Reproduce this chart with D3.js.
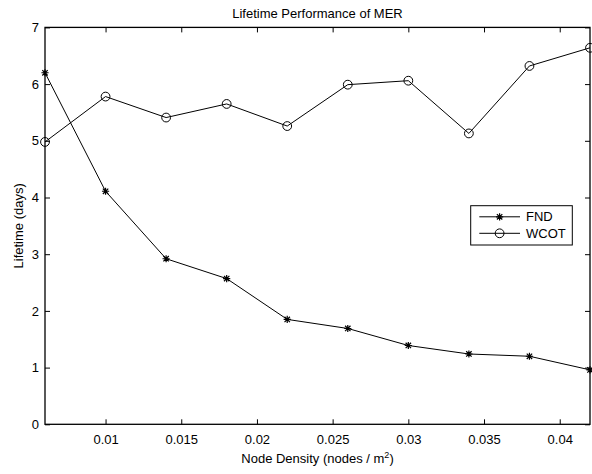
<!DOCTYPE html>
<html>
<head>
<meta charset="utf-8">
<script src="https://cdn.jsdelivr.net/npm/d3@7"></script>
<style>
  html, body { margin: 0; padding: 0; background: #fff; }
  svg { display: block; font-family: "Liberation Sans", Arial, Helvetica, sans-serif; }
</style>
</head>
<body>
<svg id="chart" width="592" height="474"></svg>
<script>
// Node density (nodes / m^2) sampled at each run
const density = [0.006, 0.010, 0.014, 0.018, 0.022, 0.026, 0.030, 0.034, 0.038, 0.042];
// Lifetime (days): first node death
const fnd = [6.20, 4.11, 2.92, 2.57, 1.85, 1.69, 1.39, 1.24, 1.20, 0.96];
// Lifetime (days): WCOT
const wcot = [4.98, 5.78, 5.41, 5.65, 5.26, 5.99, 6.06, 5.13, 6.32, 6.64];

const xTicks = [0.01, 0.015, 0.02, 0.025, 0.03, 0.035, 0.04];
const xTickLabels = ["0.01", "0.015", "0.02", "0.025", "0.03", "0.035", "0.04"];
const yTicks = [0, 1, 2, 3, 4, 5, 6, 7];
const yTickLabels = ["0", "1", "2", "3", "4", "5", "6", "7"];

const svg = d3.select("#chart");
const plotL = 45, plotR = 590, plotT = 27.4, plotB = 424.3;

const x = d3.scaleLinear().domain([0.006, 0.042]).range([plotL, plotR]);
const y = d3.scaleLinear().domain([0, 7]).range([plotB, plotT]);

const fontSize = 13;
const tickLen = 5;

// Axes: ticks point inward on all four sides, labels only bottom/left
function styleAxis(g) {
  g.select(".domain").remove();
  g.selectAll(".tick line").attr("stroke", "#000").attr("stroke-width", 1);
  g.selectAll(".tick text").attr("fill", "#000").attr("font-size", fontSize)
    .attr("font-family", "Liberation Sans, Arial, sans-serif");
}

svg.append("g").attr("transform", `translate(0,${plotB})`)
  .call(d3.axisBottom(x).tickValues(xTicks).tickSize(-tickLen).tickPadding(10)
    .tickFormat((d, i) => xTickLabels[i]))
  .call(styleAxis);

svg.append("g").attr("transform", `translate(0,${plotT})`)
  .call(d3.axisTop(x).tickValues(xTicks).tickSize(-tickLen).tickFormat(""))
  .call(styleAxis);

svg.append("g").attr("transform", `translate(${plotL},0)`)
  .call(d3.axisLeft(y).tickValues(yTicks).tickSize(-tickLen).tickPadding(6)
    .tickFormat((d, i) => yTickLabels[i]))
  .call(styleAxis);

svg.append("g").attr("transform", `translate(${plotR},0)`)
  .call(d3.axisRight(y).tickValues(yTicks).tickSize(-tickLen).tickFormat(""))
  .call(styleAxis);

// Plot box
svg.append("rect")
  .attr("x", plotL).attr("y", plotT)
  .attr("width", plotR - plotL).attr("height", plotB - plotT)
  .attr("fill", "none").attr("stroke", "#000").attr("stroke-width", 1.3);

// Title and axis labels
svg.append("text")
  .attr("x", (plotL + plotR) / 2).attr("y", 18)
  .attr("text-anchor", "middle").attr("font-size", fontSize).attr("fill", "#000")
  .text("Lifetime Performance of MER");

const xl = svg.append("text")
  .attr("x", (plotL + plotR) / 2).attr("y", 463)
  .attr("text-anchor", "middle").attr("font-size", fontSize).attr("fill", "#000");
xl.append("tspan").text("Node Density (nodes / m");
xl.append("tspan").attr("dy", -5).attr("font-size", 9).text("2");
xl.append("tspan").attr("dy", 5).text(")");

svg.append("text")
  .attr("transform", `translate(23,${(plotT + plotB) / 2}) rotate(-90)`)
  .attr("text-anchor", "middle").attr("font-size", fontSize).attr("fill", "#000")
  .text("Lifetime (days)");

// Marker shapes
const starSize = 3.6;
function starPath(cx, cy) {
  const s = starSize, d = s * 0.75;
  return `M${cx - s},${cy}L${cx + s},${cy}M${cx},${cy - s}L${cx},${cy + s}` +
         `M${cx - d},${cy - d}L${cx + d},${cy + d}M${cx - d},${cy + d}L${cx + d},${cy - d}`;
}
const circleR = 4.4;

const line = d3.line().x(d => x(d[0])).y(d => y(d[1]));

function drawSeries(vals, marker) {
  const pts = density.map((d, i) => [d, vals[i]]);
  svg.append("path").datum(pts)
    .attr("d", line).attr("fill", "none").attr("stroke", "#000").attr("stroke-width", 1);
  const g = svg.append("g");
  if (marker === "star") {
    g.selectAll("path").data(pts).join("path")
      .attr("d", d => starPath(x(d[0]), y(d[1])))
      .attr("stroke", "#000").attr("stroke-width", 1.2).attr("fill", "none");
  } else {
    g.selectAll("circle").data(pts).join("circle")
      .attr("cx", d => x(d[0])).attr("cy", d => y(d[1])).attr("r", circleR)
      .attr("stroke", "#000").attr("stroke-width", 1).attr("fill", "none");
  }
}

drawSeries(fnd, "star");
drawSeries(wcot, "circle");

// Legend
const legend = svg.append("g");
legend.append("rect")
  .attr("x", 470.7).attr("y", 205.7).attr("width", 101.6).attr("height", 39.3)
  .attr("fill", "#fff").attr("stroke", "#000").attr("stroke-width", 1);
const items = [{ name: "FND", marker: "star", y: 216.8 }, { name: "WCOT", marker: "circle", y: 233.3 }];
items.forEach(it => {
  legend.append("line").attr("x1", 479.3).attr("x2", 520).attr("y1", it.y).attr("y2", it.y)
    .attr("stroke", "#000").attr("stroke-width", 1);
  if (it.marker === "star") {
    legend.append("path").attr("d", starPath(499.6, it.y))
      .attr("stroke", "#000").attr("stroke-width", 1.2).attr("fill", "none");
  } else {
    legend.append("circle").attr("cx", 499.6).attr("cy", it.y).attr("r", circleR)
      .attr("stroke", "#000").attr("stroke-width", 1).attr("fill", "none");
  }
  legend.append("text").attr("x", 526).attr("y", it.y + 4.6)
    .attr("font-size", fontSize).attr("fill", "#000").text(it.name);
});
</script>
</body>
</html>
